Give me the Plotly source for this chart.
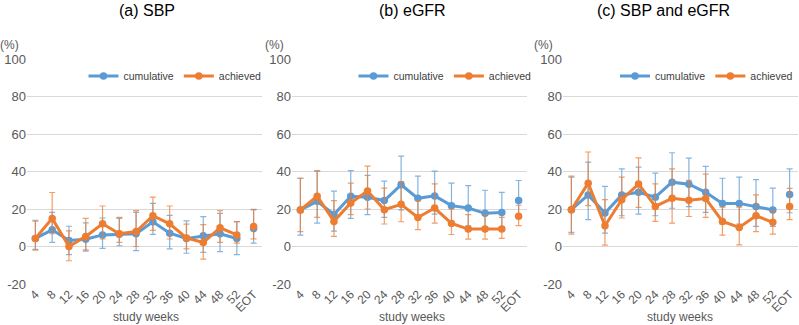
import plotly.graph_objects as go

weeks = ["4", "8", "12", "16", "20", "24", "28", "32", "36", "40", "44", "48", "52", "EOT"]
panel_titles = ["(a) SBP", "(b) eGFR", "(c) SBP and eGFR"]
y_ticks = [-20, 0, 20, 40, 60, 80, 100]

# (a) SBP
a_cum = [4.3, 8.9, 3.2, 3.9, 6.2, 6.6, 6.8, 13.2, 7.1, 4.3, 5.7, 6.8, 4.3, 9.6]
a_cum_lo = [-1.5, 2.2, -4.3, -2.5, -1.0, 0.4, -2.2, 6.5, -1.3, -3.6, -3.1, -2.7, -4.3, 1.8]
a_cum_hi = [14.0, 18.2, 10.8, 12.6, 15.2, 15.0, 18.2, 23.0, 16.6, 13.7, 15.9, 17.7, 13.3, 19.8]
a_ach = [4.3, 15.0, 0.0, 5.4, 12.1, 6.8, 8.0, 16.4, 12.1, 4.6, 2.1, 10.0, 6.2, 10.7]
a_ach_lo = [-2.0, 6.8, -7.6, -1.8, 4.0, 2.2, 0.0, 8.6, 4.0, -1.3, -6.7, 2.2, 1.8, 4.1]
a_ach_hi = [13.5, 28.8, 8.3, 15.0, 21.6, 15.5, 19.1, 26.3, 21.6, 11.9, 11.7, 19.1, 13.3, 19.5]

# (b) eGFR
b_cum = [19.5, 24.1, 17.1, 26.8, 26.3, 24.5, 32.9, 25.7, 27.0, 21.8, 20.5, 17.7, 18.2, 24.5]
b_cum_lo = [6.1, 12.5, 8.2, 15.0, 17.0, 15.5, 19.5, 16.0, 17.3, 12.0, 11.0, 9.0, 10.5, 16.0]
b_cum_hi = [36.4, 40.2, 29.5, 40.5, 37.9, 34.9, 48.2, 37.5, 40.2, 33.8, 32.5, 30.0, 28.9, 35.2]
b_ach = [19.5, 26.8, 13.4, 23.2, 29.6, 19.6, 22.5, 15.5, 20.5, 12.3, 9.3, 9.3, 9.3, 16.1]
b_ach_lo = [7.9, 15.5, 5.4, 17.0, 20.0, 12.0, 13.2, 9.0, 12.5, 6.4, 3.9, 3.9, 4.3, 11.1]
b_ach_hi = [36.4, 40.5, 24.5, 33.8, 42.9, 31.1, 34.6, 24.5, 33.4, 20.0, 17.0, 17.0, 15.5, 22.0]

# (c) SBP and eGFR
c_cum = [19.6, 27.5, 17.9, 27.5, 28.9, 26.3, 34.3, 33.2, 28.9, 23.0, 23.0, 21.3, 19.5, 27.7]
c_cum_lo = [7.5, 14.3, 7.1, 16.4, 17.3, 16.4, 20.4, 21.3, 18.2, 12.0, 12.0, 10.7, 10.7, 18.0]
c_cum_hi = [37.0, 45.0, 32.1, 41.4, 42.3, 39.1, 50.0, 47.1, 42.7, 36.4, 37.0, 35.7, 31.1, 41.4]
c_ach = [19.6, 33.8, 11.1, 25.0, 33.4, 21.4, 25.7, 24.7, 25.6, 13.4, 10.2, 16.4, 12.9, 21.4]
c_ach_lo = [6.6, 21.8, 0.7, 15.2, 20.9, 13.4, 12.5, 16.0, 15.5, 6.1, 0.9, 7.9, 6.6, 14.3]
c_ach_hi = [37.5, 50.4, 25.0, 37.0, 47.3, 33.4, 41.4, 35.3, 38.6, 21.0, 21.0, 27.5, 19.0, 31.0]

panels = [
    (a_cum, a_cum_lo, a_cum_hi, a_ach, a_ach_lo, a_ach_hi),
    (b_cum, b_cum_lo, b_cum_hi, b_ach, b_ach_lo, b_ach_hi),
    (c_cum, c_cum_lo, c_cum_hi, c_ach, c_ach_lo, c_ach_hi),
]

BLUE = "#5b9bd5"
ORANGE = "#ed7d31"
BLUE_EB = "rgba(91,155,213,0.75)"
ORANGE_EB = "rgba(237,125,49,0.75)"
FONT = "Liberation Sans, Arial, sans-serif"

W, H = 799, 325
ML, MR, MT, MB = 27, 1, 59, 41
PW = W - ML - MR
PH = H - MT - MB

def px(x):
    return (x - ML) / PW

def py(y):
    return (H - MB - y) / PH

domains = [(px(27), px(262)), (px(292), px(527)), (px(563), px(798))]

fig = go.Figure()

series_names = ["cumulative", "achieved"]
series_colors = [BLUE, ORANGE]
eb_colors = [BLUE_EB, ORANGE_EB]
legend_ids = ["legend", "legend2", "legend3"]

for i, data in enumerate(panels):
    xa = "x" if i == 0 else f"x{i+1}"
    ya = "y" if i == 0 else f"y{i+1}"
    for s in range(2):
        vals, lo, hi = data[3 * s], data[3 * s + 1], data[3 * s + 2]
        plus = [h - v for h, v in zip(hi, vals)]
        minus = [v - l for v, l in zip(vals, lo)]
        # weeks 4..52 connected
        fig.add_trace(go.Scatter(
            x=weeks[:-1], y=vals[:-1], mode="lines+markers",
            name=series_names[s], legend=legend_ids[i],
            line=dict(color=series_colors[s], width=3),
            marker=dict(color=series_colors[s], size=7.5),
            error_y=dict(type="data", symmetric=False, array=plus[:-1],
                         arrayminus=minus[:-1], color=eb_colors[s],
                         thickness=1.2, width=3),
            xaxis=xa, yaxis=ya, showlegend=True,
        ))
        # EOT point, not connected
        fig.add_trace(go.Scatter(
            x=weeks[-1:], y=vals[-1:], mode="markers",
            name=series_names[s], legend=legend_ids[i],
            marker=dict(color=series_colors[s], size=7.5),
            error_y=dict(type="data", symmetric=False, array=plus[-1:],
                         arrayminus=minus[-1:], color=eb_colors[s],
                         thickness=1.2, width=3),
            xaxis=xa, yaxis=ya, showlegend=False,
        ))

layout = dict(
    width=W, height=H,
    margin=dict(l=ML, r=MR, t=MT, b=MB, autoexpand=False),
    paper_bgcolor="white", plot_bgcolor="white",
    font=dict(family=FONT, size=12, color="#595959"),
)

legend_pos = [(px(175), "center"), (px(445), "center"), (1.0, "right")]
for i in range(3):
    xk = "xaxis" if i == 0 else f"xaxis{i+1}"
    yk = "yaxis" if i == 0 else f"yaxis{i+1}"
    ya = "y" if i == 0 else f"y{i+1}"
    layout[xk] = dict(
        domain=list(domains[i]), anchor=ya, type="category",
        categoryorder="array", categoryarray=weeks,
        range=[-0.5, len(weeks) - 0.5],
        showgrid=False, showline=False, ticks="", tickangle=-45,
        tickfont=dict(size=12, color="#595959", family=FONT),
        zeroline=False, fixedrange=True,
    )
    layout[yk] = dict(
        domain=[0, 1], anchor="x" if i == 0 else f"x{i+1}",
        range=[-20, 100], tickvals=y_ticks, ticktext=[str(t) for t in y_ticks],
        showgrid=True, gridcolor="#d9d9d9", gridwidth=1,
        zeroline=False, showline=False, ticks="",
        tickfont=dict(size=13, color="#595959", family=FONT),
        fixedrange=True,
    )
    lk = legend_ids[i]
    layout[lk] = dict(
        orientation="h", x=legend_pos[i][0], xanchor=legend_pos[i][1],
        y=py(76), yanchor="middle", xref="paper", yref="paper",
        bgcolor="rgba(0,0,0,0)", borderwidth=0,
        font=dict(size=10.5, color="#404040", family=FONT),
        itemwidth=30, tracegroupgap=0,
    )

fig.update_layout(**layout)

annotations = []
title_cx = [147, 412, 663]
pct_x = [9, 274, 543]
sw_cx = [146, 412, 680]
for i in range(3):
    annotations.append(dict(
        text=panel_titles[i], x=px(title_cx[i]), y=py(11),
        xref="paper", yref="paper", xanchor="center", yanchor="middle",
        showarrow=False, font=dict(size=16, color="#000000", family=FONT),
    ))
    annotations.append(dict(
        text="(%)", x=px(pct_x[i]), y=py(45),
        xref="paper", yref="paper", xanchor="center", yanchor="middle",
        showarrow=False, font=dict(size=12, color="#595959", family=FONT),
    ))
    annotations.append(dict(
        text="study weeks", x=px(sw_cx[i]), y=py(317),
        xref="paper", yref="paper", xanchor="center", yanchor="middle",
        showarrow=False, font=dict(size=12, color="#595959", family=FONT),
    ))
fig.update_layout(annotations=annotations)

fig.write_html(
    "out.html",
    config={"displayModeBar": False},
    post_script="document.body.style.margin='0';document.body.style.overflow='hidden';",
)
